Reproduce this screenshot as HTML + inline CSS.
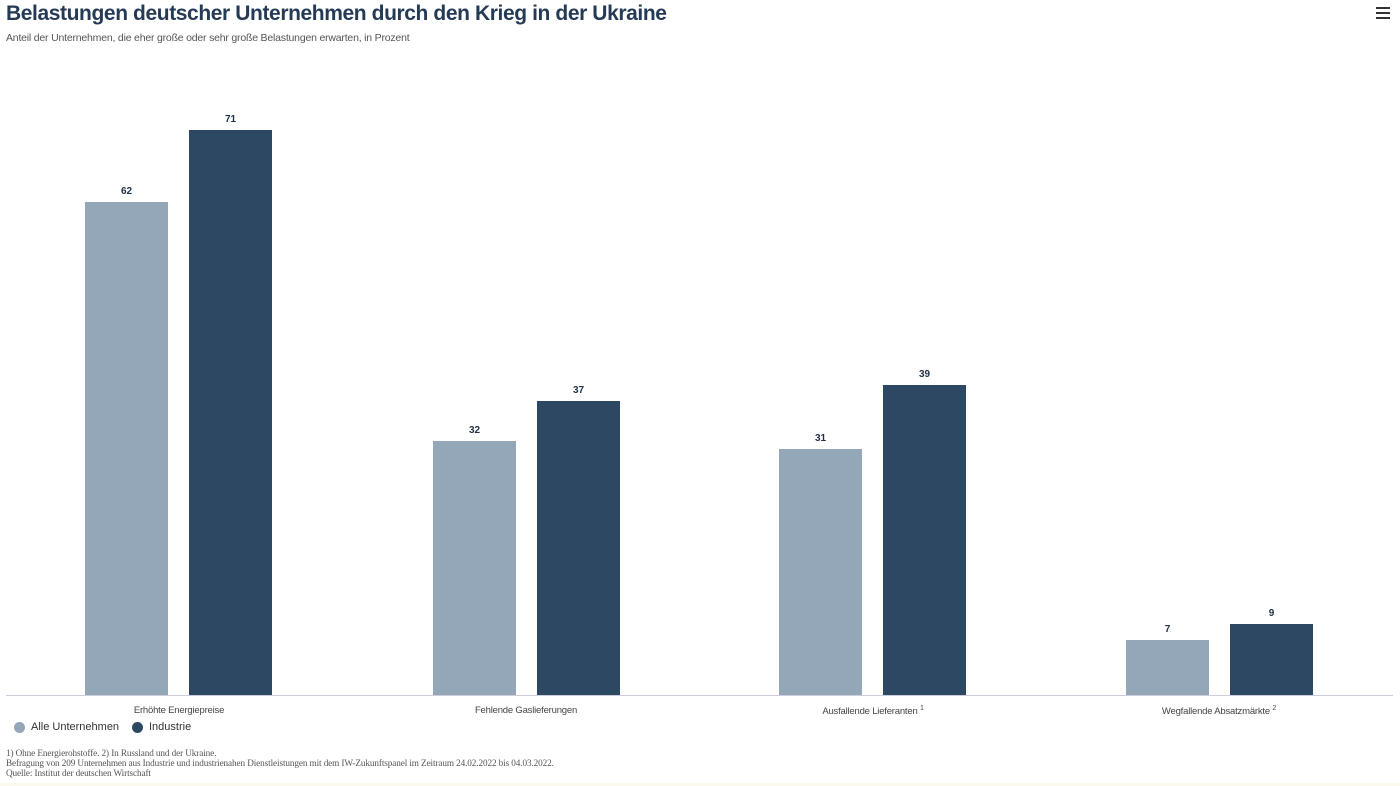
<!DOCTYPE html>
<html><head><meta charset="utf-8"><style>
body{margin:0;width:1400px;height:786px;background:#fff;position:relative;overflow:hidden;font-family:"Liberation Sans",sans-serif;}
.a{position:absolute}
.b{position:absolute;width:83px}
.l{background:#93a7b9}.d{background:#2d4862}
.v{position:absolute;width:83px;text-align:center;font-size:10px;font-weight:bold;color:#1e2f44}
.c{position:absolute;width:300px;text-align:center;font-size:9.5px;color:#444;top:705px;letter-spacing:-0.2px}
.f{font-family:"Liberation Serif",serif;font-size:8.8px;color:#555;left:6px;line-height:10px;letter-spacing:-0.1px}
</style></head><body>
<div class="a" style="left:6px;top:2px;font-size:21px;font-weight:bold;color:#243a55;letter-spacing:-0.4px">Belastungen deutscher Unternehmen durch den Krieg in der Ukraine</div>
<div class="a" style="left:6px;top:32px;font-size:10.5px;color:#555;letter-spacing:-0.2px">Anteil der Unternehmen, die eher große oder sehr große Belastungen erwarten, in Prozent</div>
<div class="a" style="left:1376px;top:7px;width:14px;height:2px;background:#333;box-shadow:0 5px 0 #333,0 10px 0 #333"></div>

<div class="b l" style="left:85px;top:202px;height:493px"></div>
<div class="b d" style="left:189px;top:130px;height:565px"></div>
<div class="b l" style="left:433px;top:441px;height:254px"></div>
<div class="b d" style="left:537px;top:401px;height:294px"></div>
<div class="b l" style="left:779px;top:449px;height:246px"></div>
<div class="b d" style="left:883px;top:385px;height:310px"></div>
<div class="b l" style="left:1126px;top:640px;height:55px"></div>
<div class="b d" style="left:1230px;top:624px;height:71px"></div>

<div class="v" style="left:85px;top:186px">62</div>
<div class="v" style="left:189px;top:114px">71</div>
<div class="v" style="left:433px;top:425px">32</div>
<div class="v" style="left:537px;top:385px">37</div>
<div class="v" style="left:779px;top:433px">31</div>
<div class="v" style="left:883px;top:369px">39</div>
<div class="v" style="left:1126px;top:624px">7</div>
<div class="v" style="left:1230px;top:608px">9</div>

<div class="a" style="left:6px;top:695px;width:1387px;height:1px;background:#ccd"></div>
<div class="c" style="left:29px">Erhöhte Energiepreise</div>
<div class="c" style="left:376px">Fehlende Gaslieferungen</div>
<div class="c" style="left:723px">Ausfallende Lieferanten <sup style="font-size:7px">1</sup></div>
<div class="c" style="left:1069px">Wegfallende Absatzmärkte <sup style="font-size:7px">2</sup></div>

<div class="a" style="left:14px;top:722px;width:11px;height:11px;border-radius:50%;background:#93a7b9"></div>
<div class="a" style="left:31px;top:721px;font-size:11px;color:#333">Alle Unternehmen</div>
<div class="a" style="left:132px;top:722px;width:11px;height:11px;border-radius:50%;background:#2d4862"></div>
<div class="a" style="left:149px;top:721px;font-size:11px;color:#333">Industrie</div>

<div class="a f" style="top:748px;font-size:9.2px">1) Ohne Energierohstoffe. 2) In Russland und der Ukraine.<br>Befragung von 209 Unternehmen aus Industrie und industrienahen Dienstleistungen mit dem IW-Zukunftspanel im Zeitraum 24.02.2022 bis 04.03.2022.<br>Quelle: Institut der deutschen Wirtschaft</div>
<div class="a" style="left:0;top:783px;width:1400px;height:3px;background:#fbf8ee"></div>
</body></html>
